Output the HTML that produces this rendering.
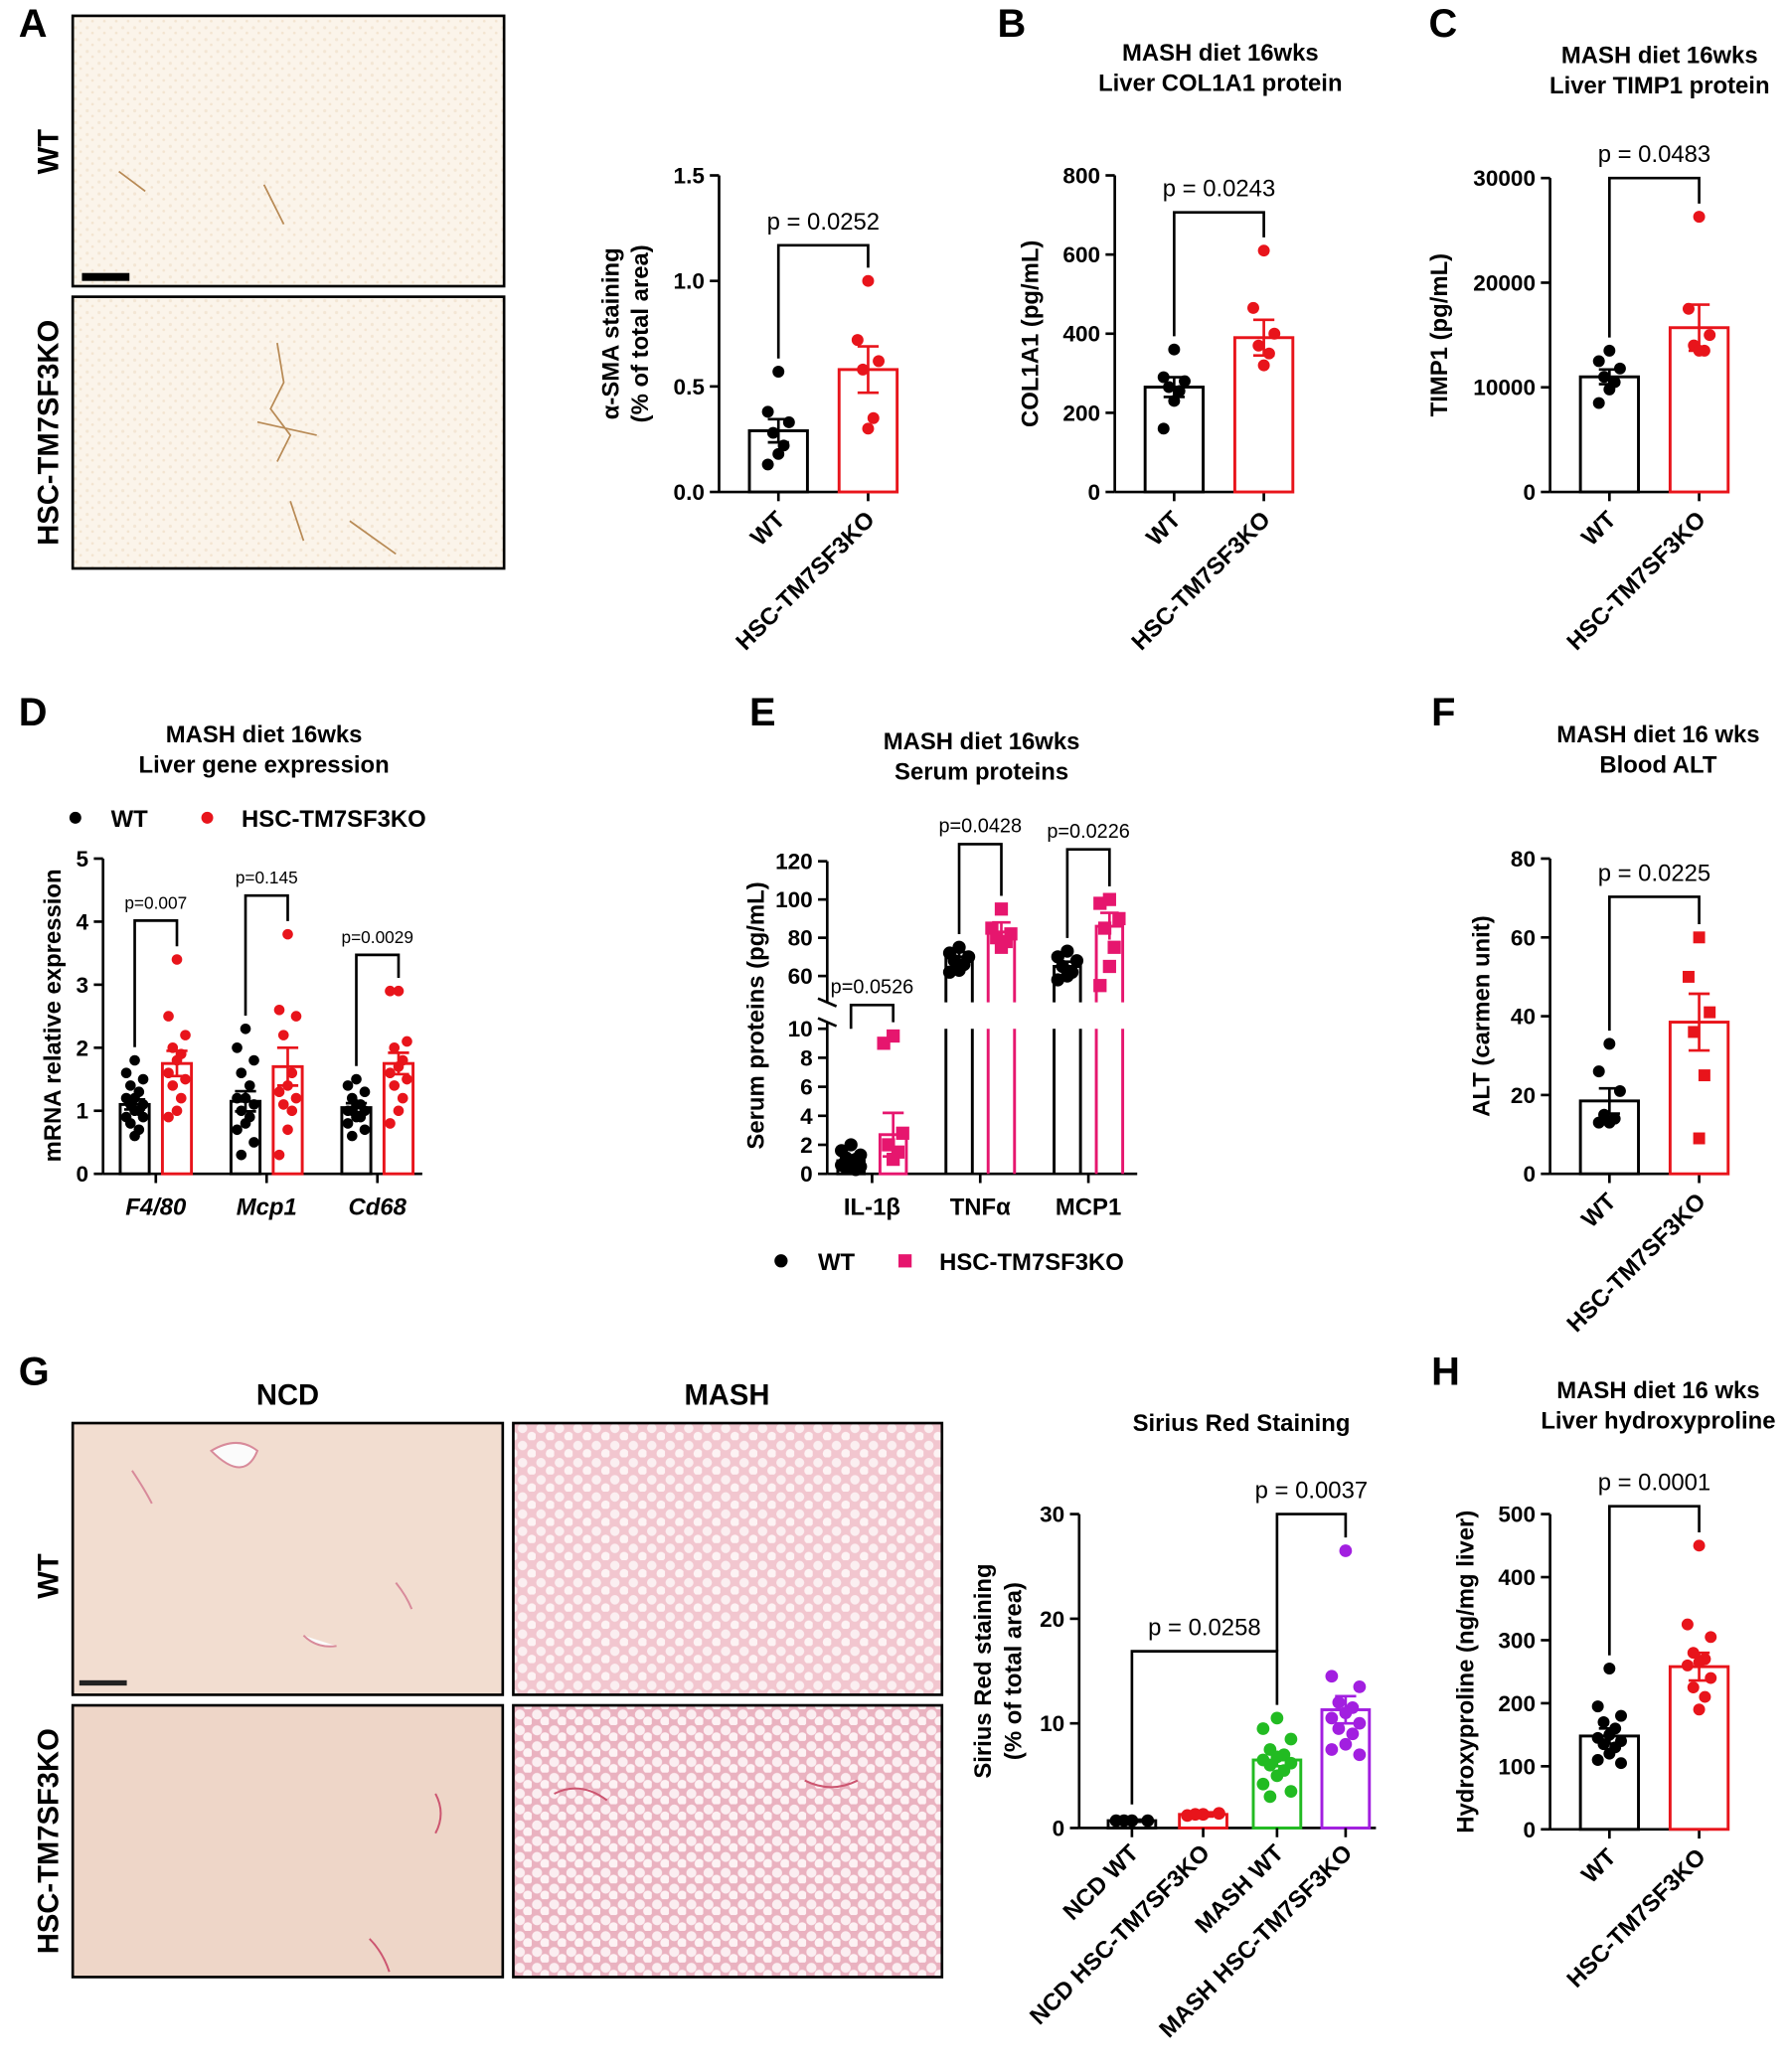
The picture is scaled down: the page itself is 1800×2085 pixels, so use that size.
<!DOCTYPE html>
<html><head><meta charset="utf-8"><style>
html,body{margin:0;padding:0;background:#fff}
svg{display:block}
text{font-family:"Liberation Sans",Arial,sans-serif;fill:#000}
</style></head><body>
<svg id="fig" width="1800" height="2085" viewBox="0 0 1356 1571" xmlns="http://www.w3.org/2000/svg">
<defs>
<pattern id="fat" width="14" height="13" patternUnits="userSpaceOnUse">
<rect width="14" height="13" fill="#f2c6cf"/>
<circle cx="4" cy="4" r="3.6" fill="#fbeff1"/>
<circle cx="11" cy="10" r="3.4" fill="#fdf3f4"/>
</pattern>
<pattern id="fat2" width="13" height="12" patternUnits="userSpaceOnUse">
<rect width="13" height="12" fill="#eab2c0"/>
<circle cx="4" cy="4" r="3.8" fill="#fbeef1"/>
<circle cx="10" cy="9" r="3.6" fill="#fdf2f4"/>
</pattern>
<pattern id="speck" width="9" height="9" patternUnits="userSpaceOnUse">
<rect width="9" height="9" fill="#fbf4ea"/>
<circle cx="3" cy="3" r="1.2" fill="#f3e6d4"/>
<circle cx="7" cy="7" r="1" fill="#f3e4d0"/>
</pattern>
</defs>
</svg>
<script>
// ---------- data ----------
const aCats=['WT','HSC-TM7SF3KO'];
const aMeans=[0.29,0.58];
const aSem=[0.055,0.11];
const aDotsWT=[0.57,0.38,0.33,0.28,0.22,0.18,0.13];
const aDotsKO=[1.0,0.72,0.62,0.58,0.35,0.3];
const aTicks=[0,0.5,1.0,1.5];

const bMeans=[265,390];
const bSem=[25,45];
const bDotsWT=[360,290,280,265,255,230,160];
const bDotsKO=[610,465,400,370,350,320];
const bTicks=[0,200,400,600,800];

const cMeans=[11000,15700];
const cSem=[700,2200];
const cDotsWT=[13500,12500,11800,11000,10500,9800,8500];
const cDotsKO=[26300,17500,15000,14000,13500,13500];
const cTicks=[0,10000,20000,30000];

const dGenes=['F4/80','Mcp1','Cd68'];
const dMeansWT=[1.1,1.15,1.05];
const dMeansKO=[1.75,1.7,1.75];
const dSemWT=[0.08,0.16,0.07];
const dSemKO=[0.2,0.3,0.17];
const dPvals=['p=0.007','p=0.145','p=0.0029'];
const dDotsWT=[[1.8,1.6,1.5,1.4,1.3,1.2,1.2,1.1,1.1,1.0,1.0,0.9,0.9,0.8,0.7,0.6],[2.3,2.0,1.8,1.6,1.4,1.2,1.2,1.1,1.0,0.9,0.8,0.7,0.5,0.3],[1.5,1.4,1.3,1.2,1.1,1.1,1.0,1.0,1.0,0.9,0.9,0.8,0.7,0.6]];
const dDotsKO=[[3.4,2.5,2.2,2.0,1.9,1.8,1.6,1.5,1.4,1.2,1.0,0.9],[3.8,2.6,2.5,2.2,1.6,1.4,1.3,1.2,1.1,1.0,0.7,0.3],[2.9,2.9,2.1,2.0,1.8,1.7,1.6,1.5,1.4,1.2,1.0,0.8]];
const dTicks=[0,1,2,3,4,5];

const eCats=['IL-1β','TNFα','MCP1'];
const eMeansWT=[0.9,70,65];
const eMeansKO=[2.7,83,86];
const eSemWT=[0.2,2.5,2.5];
const eSemKO=[1.5,5,7];
const ePvals=['p=0.0526','p=0.0428','p=0.0226'];
const eDotsWT=[[2.0,1.6,1.3,1.1,1.0,0.8,0.6,0.5,0.4,0.3],[75,72,70,68,66,63,62],[73,70,68,65,62,60,58]];
const eDotsKO=[[9.5,9.0,2.8,2.0,1.5,1.0],[95,85,82,80,78,75],[100,98,90,85,75,65,55]];
const eTicksLow=[0,2,4,6,8,10];
const eTicksHigh=[60,80,100,120];

const fMeans=[18.5,38.5];
const fSem=[3.2,7.2];
const fDotsWT=[33,26,21,15,14,13,13];
const fDotsKO=[60,50,41,36,25,9];
const fTicks=[0,20,40,60,80];

const gCats=['NCD WT','NCD HSC-TM7SF3KO','MASH WT','MASH HSC-TM7SF3KO'];
const gMeans=[0.7,1.3,6.5,11.3];
const gSem=[0.1,0.2,0.6,1.3];
const gDots=[[0.7,0.7,0.7,0.7],[1.3,1.2,1.4,1.3],[10.5,9.5,8.5,7.5,7,6.8,6.5,6.2,6,5.5,5,4.2,3.5,3],[26.5,14.5,13.5,12,11.5,11,10.5,10,9.5,9,8,7.5,7]];
const gTicks=[0,10,20,30];

const hMeans=[148,258];
const hSem=[12,22];
const hDotsWT=[255,195,180,170,160,150,145,140,135,130,120,110,105];
const hDotsKO=[450,325,305,280,270,265,260,240,225,210,190];
const hTicks=[0,100,200,300,400,500];

// ---------- helpers ----------
const NS='http://www.w3.org/2000/svg';
const svg=document.getElementById('fig');
function mk(tag,attrs,parent,name){
  const e=document.createElementNS(NS,tag);
  for(const k in attrs) e.setAttribute(k,attrs[k]);
  
  
  (parent||svg).appendChild(e);
  return e;
}
function txt(x,y,s,size,parent,name,opt){
  opt=opt||{};
  const t=mk('text',{x:x,y:y,'font-size':size,'text-anchor':opt.anchor||'middle'},parent,name);
  if(opt.bold!==false) t.setAttribute('font-weight','bold');
  if(opt.italic) t.setAttribute('font-style','italic');
  if(opt.rot!==undefined) t.setAttribute('transform','rotate('+opt.rot+' '+x+' '+y+')');
  if(opt.fill) t.setAttribute('fill',opt.fill);
  t.textContent=s;
  return t;
}
function lin(v0,v1,p0,p1){return v=>p0+(v-v0)*(p1-p0)/(v1-v0);}
function line(x1,y1,x2,y2,parent,name,w,col){return mk('line',{x1:x1,y1:y1,x2:x2,y2:y2,stroke:col||'#000','stroke-width':w||2},parent,name);}
function jit(i,n){const k=(i%5);return [0,-8,8,-4,4][k]*(n>9?1.1:1);}
function dot(x,y,shape,col,parent,name,r){
  r=r||4.5;
  if(shape==='sq') return mk('rect',{x:x-r,y:y-r,width:2*r,height:2*r,fill:col},parent,name);
  return mk('circle',{cx:x,cy:y,r:r,fill:col},parent,name);
}
function yAxis(g,ax,ys,ticks,fmt,top,bot){
  line(ax,top,ax,bot,g,'y-axis-line');
  ticks.forEach(t=>{
    line(ax-7,ys(t),ax,ys(t),g,'y-tick');
    txt(ax-11,ys(t)+6,fmt(t),17,g,'y-tick-label',{anchor:'end'});
  });
}
function bar(g,cx,w,mean,sem,ys,y0,col,name){
  mk('rect',{x:cx-w/2,y:ys(mean),width:w,height:y0-ys(mean),fill:'#fff',stroke:col,'stroke-width':2.2},g,name);
  line(cx,ys(mean+sem),cx,ys(mean-sem),g,name+'-error',2,col);
  line(cx-8,ys(mean+sem),cx+8,ys(mean+sem),g,name+'-error-cap',2,col);
  line(cx-8,ys(mean-sem),cx+8,ys(mean-sem),g,name+'-error-cap',2,col);
}
function bracket(g,x1,x2,y,d1,d2,label,size,name){
  mk('path',{d:'M'+x1+' '+d1+'V'+y+'H'+x2+'V'+d2,fill:'none',stroke:'#000','stroke-width':2},g,name);
  txt((x1+x2)/2,y-12,label,size,g,name+'-label',{bold:false});
}
function xLabelRot(g,x,y,s,name){txt(x,y,s,18,g,name,{anchor:'end',rot:-45});}

function twoBar(o){
  const g=mk('g',{},svg,o.name);
  const ys=lin(0,o.vmax,o.y0,o.ytop);
  yAxis(g,o.ax,ys,o.ticks,o.fmt,o.ytop,o.y0);
  line(o.ax,o.y0,o.ax+120,o.y0,g,'x-axis-line');
  const cx=[o.ax+45,o.ax+113];
  line(cx[0],o.y0,cx[0],o.y0+7,g,'x-tick');line(cx[1],o.y0,cx[1],o.y0+7,g,'x-tick');
  bar(g,cx[0],44,o.means[0],o.sem[0],ys,o.y0,'#000','bar-wt');
  bar(g,cx[1],44,o.means[1],o.sem[1],ys,o.y0,'#e8141b','bar-ko');
  o.dw.forEach((v,i)=>dot(cx[0]+jit(i,o.dw.length),ys(v),'c','#000',g,'dot-wt'));
  o.dk.forEach((v,i)=>dot(cx[1]+jit(i,o.dk.length),ys(v),o.shapeKO||'c','#e8141b',g,'dot-ko'));
  const topW=ys(Math.max(...o.dw))-10, topK=ys(Math.max(...o.dk))-10;
  bracket(g,cx[0],cx[1],o.by,topW,topK,o.p,18,'p-value-bracket');
  xLabelRot(g,cx[0]+6,o.y0+22,'WT','x-label-wt');
  xLabelRot(g,cx[1]+6,o.y0+22,'HSC-TM7SF3KO','x-label-ko');
  o.ytitle.forEach((s,i)=>txt(o.tx+i*22,(o.y0+o.ytop)/2,s,18,g,'y-axis-title',{rot:-90}));
  if(o.title) o.title.forEach((s,i)=>txt(o.titleX,o.titleY+i*23,s,18,g,'chart-title'));
  return g;
}

// ---------- panel letters ----------
[['A',14,28],['B',756,28],['C',1083,28],['D',14,550],['E',568,550],['F',1085,550],['G',14,1050],['H',1085,1050]].forEach(p=>txt(p[1],p[2],p[0],30,svg,'panel-label-'+p[0].toLowerCase(),{anchor:'start'}));

// ---------- A images ----------
const gA=mk('g',{},svg,'panel-a-micrographs');
mk('rect',{x:55,y:12,width:327,height:205,fill:'url(#speck)',stroke:'#000','stroke-width':2},gA,'wt-asma-image');
mk('rect',{x:55,y:225,width:327,height:206,fill:'url(#speck)',stroke:'#000','stroke-width':2},gA,'ko-asma-image');
mk('rect',{x:62,y:207,width:36,height:6,fill:'#000'},gA,'scale-bar');
mk('path',{d:'M210 260 L215 290 L205 310 L220 330 L210 350 M195 320 L240 330 M220 380 L230 410 M265 395 L300 420 M90 130 L110 145 M200 140 L215 170',stroke:'#b88a55','stroke-width':1.3,fill:'none'},gA,'stained-fibers');
txt(44,115,'WT',22,gA,'row-label-wt',{rot:-90});
txt(44,328,'HSC-TM7SF3KO',22,gA,'row-label-ko',{rot:-90});

twoBar({name:'panel-a-chart',ax:545,y0:373,ytop:133,vmax:1.5,ticks:aTicks,fmt:t=>t.toFixed(1),means:aMeans,sem:aSem,dw:aDotsWT,dk:aDotsKO,by:186,p:'p = 0.0252',ytitle:['α-SMA staining','(% of total area)'],tx:469});
twoBar({name:'panel-b-chart',ax:845,y0:373,ytop:133,vmax:800,ticks:bTicks,fmt:t=>String(t),means:bMeans,sem:bSem,dw:bDotsWT,dk:bDotsKO,by:161,p:'p = 0.0243',ytitle:['COL1A1 (pg/mL)'],tx:787,title:['MASH diet 16wks','Liver COL1A1 protein'],titleX:925,titleY:46});
twoBar({name:'panel-c-chart',ax:1175,y0:373,ytop:135,vmax:30000,ticks:cTicks,fmt:t=>String(t),means:cMeans,sem:cSem,dw:cDotsWT,dk:cDotsKO,by:135,p:'p = 0.0483',ytitle:['TIMP1 (pg/mL)'],tx:1097,title:['MASH diet 16wks','Liver TIMP1 protein'],titleX:1258,titleY:48});
twoBar({name:'panel-f-chart',ax:1175,y0:890,ytop:651,vmax:80,ticks:fTicks,fmt:t=>String(t),means:fMeans,sem:fSem,dw:fDotsWT,dk:fDotsKO,shapeKO:'sq',by:680,p:'p = 0.0225',ytitle:['ALT (carmen unit)'],tx:1129,title:['MASH diet 16 wks','Blood ALT'],titleX:1257,titleY:563});
twoBar({name:'panel-h-chart',ax:1175,y0:1387,ytop:1148,vmax:500,ticks:hTicks,fmt:t=>String(t),means:hMeans,sem:hSem,dw:hDotsWT,dk:hDotsKO,by:1142,p:'p = 0.0001',ytitle:['Hydroxyproline (ng/mg liver)'],tx:1117,title:['MASH diet 16 wks','Liver hydroxyproline'],titleX:1257,titleY:1060});

// ---------- D ----------
(function(){
  const g=mk('g',{},svg,'panel-d-chart');
  const ax=78,y0=890,yt=651;
  const ys=lin(0,5,y0,yt);
  yAxis(g,ax,ys,dTicks,t=>String(t),yt,y0);
  line(ax,y0,ax+242,y0,g,'x-axis-line');
  txt(200,563,'MASH diet 16wks',18,g,'chart-title');
  txt(200,586,'Liver gene expression',18,g,'chart-title');
  dot(57,620,'c','#000',g,'legend-marker-wt');
  txt(84,627,'WT',18,g,'legend-label-wt',{anchor:'start'});
  dot(157,620,'c','#e8141b',g,'legend-marker-ko');
  txt(183,627,'HSC-TM7SF3KO',18,g,'legend-label-ko',{anchor:'start'});
  const byArr=[698,679,724];
  dGenes.forEach((gn,i)=>{
    const cw=102+84*i, ck=cw+32;
    bar(g,cw,22,dMeansWT[i],dSemWT[i],ys,y0,'#000','bar-wt');
    bar(g,ck,22,dMeansKO[i],dSemKO[i],ys,y0,'#e8141b','bar-ko');
    dDotsWT[i].forEach((v,j)=>dot(cw+jit(j,9)*0.8,ys(v),'c','#000',g,'dot-wt',4));
    dDotsKO[i].forEach((v,j)=>dot(ck+jit(j,9)*0.8,ys(v),'c','#e8141b',g,'dot-ko',4));
    const d1=ys(Math.max(...dDotsWT[i]))-10, d2=ys(Math.max(...dDotsKO[i]))-10;
    mk('path',{d:'M'+cw+' '+d1+'V'+byArr[i]+'H'+ck+'V'+d2,fill:'none',stroke:'#000','stroke-width':2},g,'p-value-bracket');
    txt((cw+ck)/2,byArr[i]-9,dPvals[i],13,g,'p-value-label',{bold:false});
    line((cw+ck)/2,y0,(cw+ck)/2,y0+7,g,'x-tick');
    txt((cw+ck)/2,921,gn,18,g,'x-label-gene',{italic:true});
  });
  txt(46,770,'mRNA relative expression',18,g,'y-axis-title',{rot:-90});
})();

// ---------- E ----------
(function(){
  const g=mk('g',{},svg,'panel-e-chart');
  const ax=627,y0=890;
  const ys=v=> v<=10 ? y0-v*11 : 740-(v-60)*1.45;
  const PINK='#e6166e';
  line(ax,653,ax,760,g,'y-axis-upper');
  line(ax,775,ax,y0,g,'y-axis-lower');
  line(ax-7,757,ax+7,763,g,'axis-break-mark');line(ax-7,772,ax+7,778,g,'axis-break-mark');
  eTicksLow.forEach(t=>{line(ax-7,ys(t),ax,ys(t),g,'y-tick');txt(ax-11,ys(t)+6,String(t),17,g,'y-tick-label',{anchor:'end'});});
  eTicksHigh.forEach(t=>{line(ax-7,ys(t),ax,ys(t),g,'y-tick');txt(ax-11,ys(t)+6,String(t),17,g,'y-tick-label',{anchor:'end'});});
  line(ax,y0,ax+235,y0,g,'x-axis-line');
  txt(744,568,'MASH diet 16wks',18,g,'chart-title');
  txt(744,591,'Serum proteins',18,g,'chart-title');
  txt(579,770,'Serum proteins (pg/mL)',18,g,'y-axis-title',{rot:-90});
  function ebar(cx,m,s,col,name){
    if(m<=10){bar(g,cx,20,m,s,ys,y0,col,name);return;}
    mk('path',{d:'M'+(cx-10)+' 760V'+ys(m)+'H'+(cx+10)+'V760',fill:'none',stroke:col,'stroke-width':2.2},g,name+'-upper');
    mk('path',{d:'M'+(cx-10)+' 780V'+y0+'M'+(cx+10)+' 780V'+y0,fill:'none',stroke:col,'stroke-width':2.2},g,name+'-lower');
    line(cx,ys(m+s),cx,ys(m-s),g,name+'-error',2,col);
    line(cx-7,ys(m+s),cx+7,ys(m+s),g,name+'-error-cap',2,col);
  }
  const byArr=[762,640,644];
  eCats.forEach((c,i)=>{
    const cw=645+82*i, ck=cw+32;
    ebar(cw,eMeansWT[i],eSemWT[i],'#000','bar-wt');
    ebar(ck,eMeansKO[i],eSemKO[i],PINK,'bar-ko');
    eDotsWT[i].forEach((v,j)=>dot(cw+jit(j,9)*0.9,ys(v),'c','#000',g,'dot-wt',5));
    eDotsKO[i].forEach((v,j)=>dot(ck+jit(j,9)*0.9,ys(v),'sq',PINK,g,'dot-ko',5));
    const d1=i===0?780:ys(Math.max(...eDotsWT[i]))-10, d2=i===0?775:ys(Math.max(...eDotsKO[i]))-10;
    mk('path',{d:'M'+cw+' '+d1+'V'+byArr[i]+'H'+ck+'V'+d2,fill:'none',stroke:'#000','stroke-width':2},g,'p-value-bracket');
    txt((cw+ck)/2,byArr[i]-9,ePvals[i],15,g,'p-value-label',{bold:false});
    line((cw+ck)/2,y0,(cw+ck)/2,y0+7,g,'x-tick');
    txt((cw+ck)/2,921,c,18,g,'x-label-protein');
  });
  dot(592,956,'c','#000',g,'legend-marker-wt',5);
  txt(620,963,'WT',18,g,'legend-label-wt',{anchor:'start'});
  dot(686,956,'sq',PINK,g,'legend-marker-ko',5);
  txt(712,963,'HSC-TM7SF3KO',18,g,'legend-label-ko',{anchor:'start'});
})();

// ---------- G images ----------
(function(){
  const g=mk('g',{},svg,'panel-g-micrographs');
  txt(218,1065,'NCD',22,g,'column-label-ncd');
  txt(551,1065,'MASH',22,g,'column-label-mash');
  mk('rect',{x:55,y:1079,width:326,height:206,fill:'#f2ddd0',stroke:'#000','stroke-width':2},g,'ncd-wt-image');
  mk('rect',{x:389,y:1079,width:325,height:206,fill:'url(#fat)',stroke:'#000','stroke-width':2},g,'mash-wt-image');
  mk('rect',{x:55,y:1293,width:326,height:206,fill:'#eed6c8',stroke:'#000','stroke-width':2},g,'ncd-ko-image');
  mk('rect',{x:389,y:1293,width:325,height:206,fill:'url(#fat2)',stroke:'#000','stroke-width':2},g,'mash-ko-image');
  mk('path',{d:'M160 1100 q20 -12 35 0 q-10 25 -35 0z M100 1115 q10 15 15 25 M300 1200 q8 10 12 20 M230 1240 q10 10 25 8',fill:'#fbfbfb',stroke:'#d88a9a','stroke-width':1.5},g,'vessels');
  mk('path',{d:'M330 1360 q8 15 0 30 M280 1470 q10 10 15 25 M420 1360 q20 -10 40 5 M610 1350 q20 10 40 0',fill:'none',stroke:'#cc5570','stroke-width':1.5},g,'fibrosis-strands');
  mk('rect',{x:60,y:1274,width:36,height:4,fill:'#222'},g,'scale-bar');
  txt(44,1195,'WT',22,g,'row-label-wt',{rot:-90});
  txt(44,1396,'HSC-TM7SF3KO',22,g,'row-label-ko',{rot:-90});
})();

// ---------- G chart ----------
(function(){
  const g=mk('g',{},svg,'panel-g-chart');
  const ax=818,y0=1386,yt=1148;
  const ys=lin(0,30,y0,yt);
  yAxis(g,ax,ys,gTicks,t=>String(t),yt,y0);
  line(ax,y0,ax+225,y0,g,'x-axis-line');
  txt(941,1085,'Sirius Red Staining',18,g,'chart-title');
  txt(751,1267,'Sirius Red staining',18,g,'y-axis-title',{rot:-90});
  txt(774,1267,'(% of total area)',18,g,'y-axis-title',{rot:-90});
  const cols=['#000','#e8141b','#22bb22','#a21fe0'];
  const cxs=[858,912,968,1020];
  gCats.forEach((c,i)=>{
    bar(g,cxs[i],36,gMeans[i],gSem[i],ys,y0,cols[i],'bar-'+i);
    gDots[i].forEach((v,j)=>dot(cxs[i]+jit(j,gDots[i].length)*(gDots[i].length>5?1.2:1.5),ys(v),'c',cols[i],g,'dot',4.8));
    line(cxs[i],y0,cxs[i],y0+7,g,'x-tick');
    xLabelRot(g,cxs[i]+6,y0+20,c,'x-label');
  });
  bracket(g,cxs[0],cxs[2],1252,ys(1.5)-6,ys(10.5)-10,'p = 0.0258',18,'p-value-bracket');
  bracket(g,cxs[2],cxs[3],1148,1252,ys(26.5)-10,'p = 0.0037',18,'p-value-bracket');
})();
</script>
</body></html>
